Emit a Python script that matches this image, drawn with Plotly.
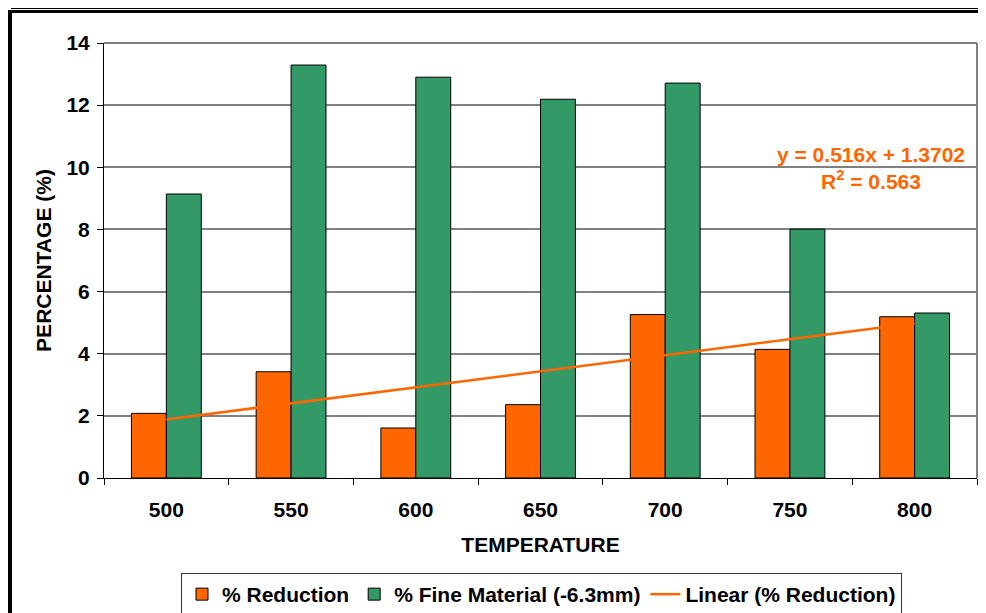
import plotly.graph_objects as go

temperatures = ["500", "550", "600", "650", "700", "750", "800"]
reduction = [2.08, 3.42, 1.61, 2.36, 5.26, 4.14, 5.19]
fine_material = [9.14, 13.29, 12.90, 12.19, 12.71, 8.01, 5.31]
trend_slope = 0.516
trend_intercept = 1.3702
r_squared = 0.563
y_ticks = [0, 2, 4, 6, 8, 10, 12, 14]

ORANGE = "#FF6600"
GREEN = "#339966"
FONT = "Liberation Sans, Arial, sans-serif"
FS = 21

trend_y = [trend_intercept + trend_slope * (i + 1) for i in range(len(temperatures))]

W, H = 986, 613
OFF = 8  # page body margin: figure is drawn at (8, 8) on the page
# plot area in page (screen) pixels
L, R, T, B = 104, 977, 43, 478


def px(x):
    return (x - L) / (R - L)


def py(y):
    return (B - y) / (B - T)


fig = go.Figure()
fig.add_trace(go.Bar(
    x=temperatures, y=reduction, name="% Reduction",
    marker=dict(color=ORANGE, line=dict(color="black", width=1)),
))
fig.add_trace(go.Bar(
    x=temperatures, y=fine_material, name="% Fine Material (-6.3mm)",
    marker=dict(color=GREEN, line=dict(color="black", width=1)),
))
fig.add_trace(go.Scatter(
    x=temperatures, y=trend_y, mode="lines", name="Linear (% Reduction)",
    line=dict(color=ORANGE, width=2.5),
))

fig.update_layout(
    width=W, height=H,
    margin=dict(l=L - OFF, r=W - (R - OFF), t=T - OFF, b=H - (B - OFF), autoexpand=False),
    paper_bgcolor="white", plot_bgcolor="white",
    font=dict(family=FONT, size=FS, color="black"),
    barmode="group", bargap=0.44, bargroupgap=0,
    showlegend=True,
    legend=dict(
        orientation="h", x=px(541.5), xanchor="center", y=py(573), yanchor="top",
        bordercolor="#333333", borderwidth=1, bgcolor="white",
        font=dict(family=FONT, size=FS, color="black", weight="bold"),
        itemwidth=30, tracegroupgap=0,
    ),
    xaxis=dict(
        type="category", tickson="boundaries", automargin=False,
        showline=True, linecolor="black", linewidth=1,
        ticks="outside", ticklen=6, tickcolor="black", tickwidth=1,
        ticklabelstandoff=13,
        tickfont=dict(family=FONT, size=FS, weight="bold"),
        title=dict(text="TEMPERATURE", font=dict(family=FONT, size=FS, weight="bold"), standoff=17),
        showgrid=False, zeroline=False,
    ),
    yaxis=dict(
        range=[0, 14], tickvals=y_ticks, automargin=False,
        showline=True, linecolor="black", linewidth=1,
        ticks="outside", ticklen=6, tickcolor="black", tickwidth=1,
        ticklabelstandoff=3,
        tickfont=dict(family=FONT, size=FS, weight="bold"),
        showgrid=True, gridcolor="#808080", gridwidth=1.5,
        zeroline=False,
        title=dict(text="PERCENTAGE (%)", font=dict(family=FONT, size=FS, weight="bold"), standoff=9),
    ),
    annotations=[dict(
        xref="paper", yref="paper", x=px(871), y=py(168), xanchor="center", yanchor="middle",
        text=f"y = {trend_slope}x + {trend_intercept}<br>R<sup>2</sup> = {r_squared}",
        showarrow=False, align="center",
        font=dict(family=FONT, size=FS, color=ORANGE, weight="bold"),
    )],
    shapes=[
        dict(type="line", xref="paper", yref="paper", x0=0, x1=1, y0=1, y1=1,
             line=dict(color="#808080", width=2), layer="above"),
        dict(type="line", xref="paper", yref="paper", x0=1, x1=1, y0=0, y1=1,
             line=dict(color="#808080", width=2), layer="above"),
        # outer frame (screen pixel positions)
        dict(type="line", xref="paper", yref="paper", x0=px(11), x1=px(1000), y0=py(8.5), y1=py(8.5),
             line=dict(color="black", width=1)),
        dict(type="line", xref="paper", yref="paper", x0=px(8), x1=px(1000), y0=py(11.5), y1=py(11.5),
             line=dict(color="black", width=3)),
        dict(type="line", xref="paper", yref="paper", x0=px(10), x1=px(10), y0=py(10), y1=py(630),
             line=dict(color="black", width=4)),
    ],
)

fig.write_html("out.html")
